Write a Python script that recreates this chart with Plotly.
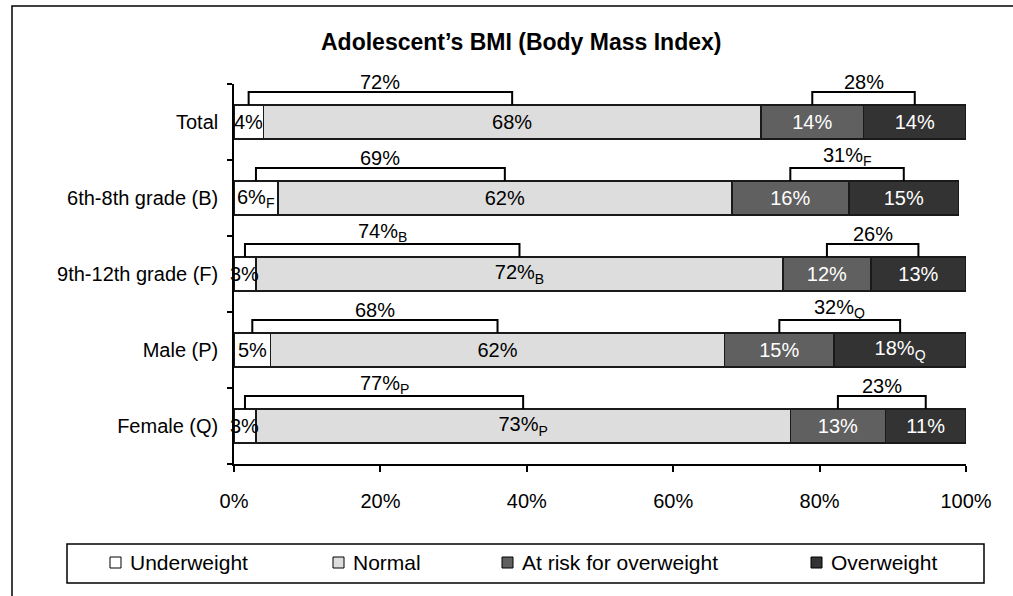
import numpy as np
import plotly.graph_objects as go

# data
categories = ["Total", "6th-8th grade (B)", "9th-12th grade (F)", "Male (P)", "Female (Q)"]
underweight = [4, 6, 3, 5, 3]
normal = [68, 62, 72, 62, 73]
at_risk = [14, 16, 12, 15, 13]
overweight = [14, 15, 13, 18, 11]

underweight_labels = ["4%", "6%<sub>F</sub>", "3%", "5%", "3%"]
normal_labels = ["68%", "62%", "72%<sub>B</sub>", "62%", "73%<sub>P</sub>"]
at_risk_labels = ["14%", "16%", "12%", "15%", "13%"]
overweight_labels = ["14%", "15%", "13%", "18%<sub>Q</sub>", "11%"]

healthy_labels = ["72%", "69%", "74%<sub>B</sub>", "68%", "77%<sub>P</sub>"]
heavy_labels = ["28%", "31%<sub>F</sub>", "26%", "32%<sub>Q</sub>", "23%"]

series_names = ["Underweight", "Normal", "At risk for overweight", "Overweight"]

# styling
FONT = "Liberation Sans, Arial, sans-serif"
fill_colors = ["#ffffff", "#dddddd", "#606060", "#333333"]
text_colors = ["#000000", "#000000", "#ffffff", "#ffffff"]
W, H = 1013, 596
L, R, T, B = 234, 47, 84, 132
BAR_W = 0.45


def px_x(p):
    return (p - L) / (W - L - R)


def px_y(p):
    return (H - B - p) / (H - T - B)


rows = np.arange(len(categories))
fig = go.Figure()

series = [underweight, normal, at_risk, overweight]
# underweight labels spill over the axis, so they go in as annotations below
labels = [None, normal_labels, at_risk_labels, overweight_labels]
for name, vals, labs, col, tcol in zip(series_names, series, labels, fill_colors, text_colors):
    fig.add_bar(
        y=rows, x=vals, orientation="h", name=name,
        marker=dict(color=col, line=dict(color="#1a1a1a", width=1.5)),
        text=labs, textposition="inside", insidetextanchor="middle",
        textangle=0, constraintext="none",
        textfont=dict(family=FONT, size=20, color=tcol),
        width=BAR_W, showlegend=False, hoverinfo="skip",
    )

# brackets joining the segment midpoints
u = np.array(underweight, dtype=float)
n = np.array(normal, dtype=float)
r = np.array(at_risk, dtype=float)
o = np.array(overweight, dtype=float)
left_a, left_b = u / 2, u + n / 2
right_a, right_b = u + n + r / 2, u + n + r + o / 2

lo, hi = BAR_W / 2, 0.395
bx, by = [], []
annotations = []
for i in rows:
    annotations.append(dict(
        x=u[i] / 2, y=i, xref="x", yref="y", text=underweight_labels[i],
        showarrow=False, xanchor="center", yanchor="middle",
        font=dict(family=FONT, size=20, color="#000"),
    ))
    for a, b, lab in ((left_a[i], left_b[i], healthy_labels[i]),
                      (right_a[i], right_b[i], heavy_labels[i])):
        bx += [a, a, b, b, None]
        by += [i - lo, i - hi, i - hi, i - lo, None]
        annotations.append(dict(
            x=(a + b) / 2, y=i - hi, xref="x", yref="y", text=lab,
            showarrow=False, yanchor="bottom", yshift=-3,
            font=dict(family=FONT, size=20, color="#000"),
        ))

fig.add_scatter(x=bx, y=by, mode="lines", cliponaxis=False,
                line=dict(color="#000", width=2), showlegend=False, hoverinfo="skip")

# title
annotations.append(dict(
    x=px_x(521), y=px_y(42), xref="paper", yref="paper",
    text="<b>Adolescent’s BMI (Body Mass Index)</b>", showarrow=False,
    xanchor="center", yanchor="middle", font=dict(family=FONT, size=23, color="#000"),
))

shapes = [
    # outer chart frame (cut off at right and bottom)
    dict(type="rect", xref="paper", yref="paper", x0=px_x(12), x1=px_x(1040),
         y0=px_y(640), y1=px_y(6), line=dict(color="#000", width=1.5), layer="below"),
    # legend box
    dict(type="rect", xref="paper", yref="paper", x0=px_x(67), x1=px_x(984),
         y0=px_y(583), y1=px_y(544), line=dict(color="#000", width=1.5)),
]

legend_marker_x = [110, 333, 502, 811]
legend_y = 562.5
for name, mx, col in zip(series_names, legend_marker_x, fill_colors):
    shapes.append(dict(type="rect", xref="paper", yref="paper",
                       x0=px_x(mx), x1=px_x(mx + 11),
                       y0=px_y(legend_y + 5.5), y1=px_y(legend_y - 5.5),
                       fillcolor=col, line=dict(color="#000", width=1)))
    annotations.append(dict(
        x=px_x(mx + 18), y=px_y(legend_y), xref="paper", yref="paper", text=name,
        showarrow=False, xanchor="left", yanchor="middle",
        font=dict(family=FONT, size=21, color="#000"),
    ))

fig.update_layout(
    width=W, height=H, barmode="stack",
    margin=dict(l=L, r=R, t=T, b=B),
    paper_bgcolor="white", plot_bgcolor="white",
    font=dict(family=FONT, size=20, color="#000"),
    xaxis=dict(range=[0, 100], tick0=0, dtick=20, ticksuffix="%",
               ticks="outside", ticklen=6, tickcolor="#000", tickwidth=1.5,
               showline=True, linecolor="#000", linewidth=1.5,
               showgrid=False, zeroline=False, ticklabelstandoff=12,
               tickfont=dict(family=FONT, size=20, color="#000")),
    yaxis=dict(range=[len(categories) - 0.5, -0.5],
               tickmode="array", tickvals=rows, ticktext=categories, ticks="",
               minor=dict(tickmode="array", tickvals=np.arange(len(categories) + 1) - 0.5,
                          ticks="outside", ticklen=5, tickcolor="#000", tickwidth=1.5,
                          showgrid=False),
               showline=True, linecolor="#000", linewidth=1.5,
               showgrid=False, zeroline=False, ticklabelstandoff=10,
               tickfont=dict(family=FONT, size=20, color="#000")),
    shapes=shapes, annotations=annotations,
)

# the page's default body margin would shift the figure by 8px
fig.write_html("out.html", config={"displayModeBar": False},
               post_script="document.body.style.margin='0';")
